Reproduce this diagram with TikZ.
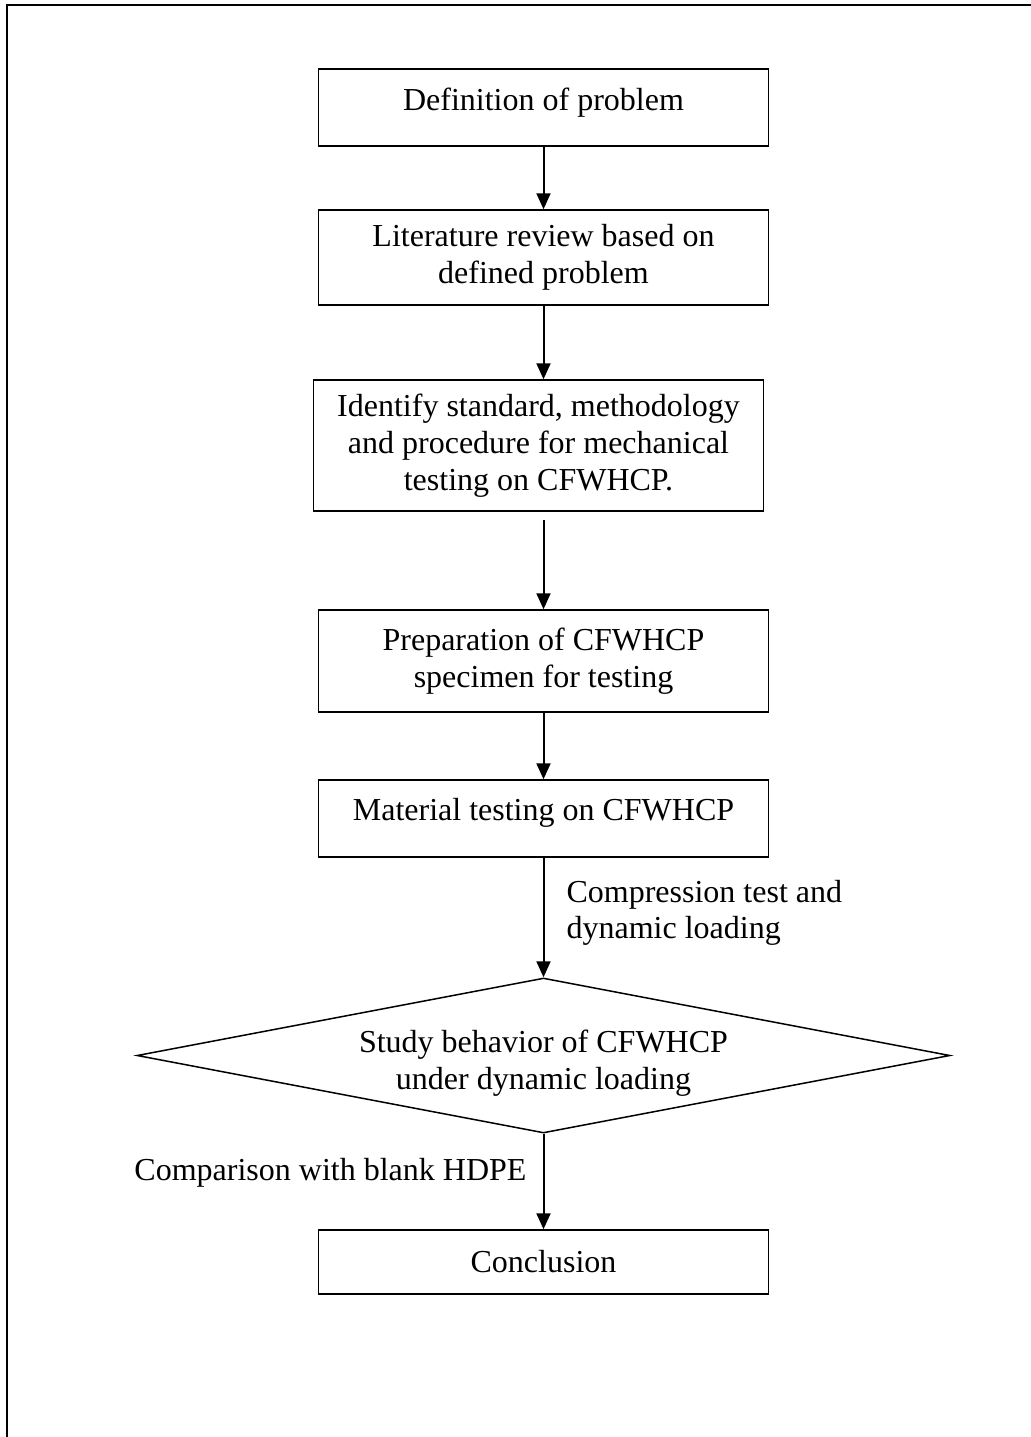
\documentclass[tikz,border=0pt]{standalone}
\usepackage{fontspec}
\setmainfont{Liberation Serif}
\usetikzlibrary{positioning, shapes.geometric, arrows.meta}

\begin{document}
\begin{tikzpicture}[>={Triangle[width=7pt,length=8pt]}, every node/.style={font=\fontsize{16pt}{18.35pt}\selectfont}]
\tikzstyle{process}=[draw, rectangle, line width=0.75pt, minimum width=225pt, align=center, inner sep=0pt]
\tikzstyle{decision}=[draw, diamond, aspect=5.245, line width=0.75pt, minimum width=406.5pt, minimum height=77.5pt, align=center, inner sep=0pt]
\tikzstyle{flow}=[->, line width=1pt]
\tikzstyle{frame}=[line width=1pt]

\useasboundingbox (0,0) rectangle (515.5pt,-718.5pt);
\draw[frame] (3.3pt,-718.5pt) -- (3.3pt,-2.5pt) -- (515.5pt,-2.5pt);

\node[process, text height=20.5pt, text depth=18pt] (problem) at (271.75pt,-53.75pt) {Definition of problem};
\node[process, minimum height=47.5pt, below=31.25pt of problem] (review) {Literature review based on\\defined problem};
\node[process, minimum height=65.5pt, below=36.75pt of review, xshift=-2.5pt] (standard) {Identify standard, methodology\\and procedure for mechanical\\testing on CFWHCP.};
\node[process, minimum height=51pt, below=48.75pt of standard, xshift=2.5pt] (specimen) {Preparation of CFWHCP\\specimen for testing};
\node[process, text height=20pt, text depth=18.5pt, below=33.25pt of specimen] (testing) {Material testing on CFWHCP};
\node[decision, text height=37.6pt, text depth=3.5pt, below=59.75pt of testing] (behavior) {Study behavior of CFWHCP\\under dynamic loading};
\node[process, minimum height=32pt, below=47.75pt of behavior] (conclusion) {Conclusion};

\draw[flow] (problem) -- (review);
\draw[flow] (review) -- (review |- standard.north);
\draw[flow, shorten <=4pt] (standard.south -| specimen.north) -- (specimen);
\draw[flow] (specimen) -- (testing);
\draw[flow] (testing) -- node[right, xshift=7.7pt, yshift=2.3pt, align=left]{Compression test and\\dynamic loading} (behavior);
\draw[flow] (behavior) -- node[left, xshift=-4.7pt, yshift=4.5pt]{Comparison with blank HDPE} (conclusion);
\end{tikzpicture}
\end{document}
